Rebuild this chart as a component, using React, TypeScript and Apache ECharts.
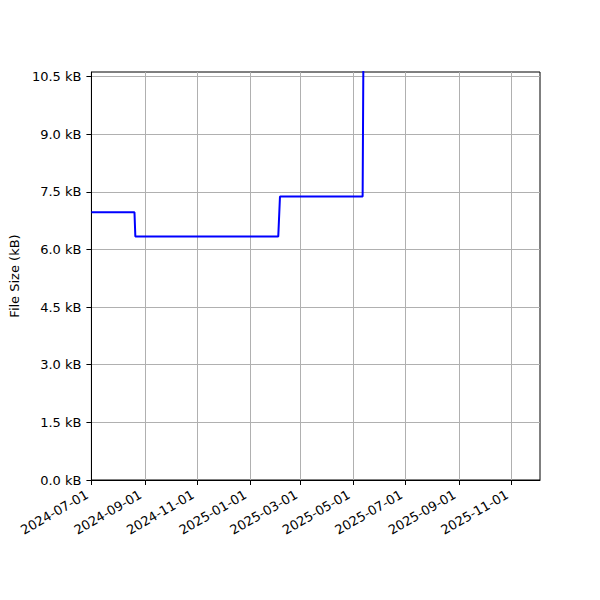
import React, { useEffect, useRef } from "react";
import * as echarts from "echarts";

const dates: string[] = [
  "2024-07-01",
  "2024-08-20",
  "2024-08-21",
  "2025-02-03",
  "2025-02-05",
  "2025-05-12",
  "2025-05-13",
];
const sizesKB: number[] = [6.97, 6.97, 6.34, 6.34, 7.38, 7.38, 11.5];

const xTickDates: string[] = [
  "2024-07-01",
  "2024-09-01",
  "2024-11-01",
  "2025-01-01",
  "2025-03-01",
  "2025-05-01",
  "2025-07-01",
  "2025-09-01",
  "2025-11-01",
];
const yTicks: number[] = [0, 1.5, 3.0, 4.5, 6.0, 7.5, 9.0, 10.5];

const xMinDate = "2024-07-01";
const xMaxDate = "2025-12-04";
const yMax = 10.62;

const ts = (d: string) => {
  const [y, m, day] = d.split("-").map(Number);
  return Date.UTC(y, m - 1, day);
};
const fmtDate = (v: number) => {
  const d = new Date(v);
  const mm = String(d.getUTCMonth() + 1).padStart(2, "0");
  const dd = String(d.getUTCDate()).padStart(2, "0");
  return `${d.getUTCFullYear()}-${mm}-${dd}`;
};

export default function App() {
  const ref = useRef<HTMLDivElement>(null);
  useEffect(() => {
    if (!ref.current) return;
    const chart = echarts.init(ref.current, undefined, { renderer: "svg" });
    const font = "DejaVu Sans";
    chart.setOption({
      animation: false,
      backgroundColor: "#ffffff",
      grid: {
        left: 90,
        right: 60,
        top: 72,
        bottom: 120,
        show: true,
        borderColor: "#000000",
        borderWidth: 1,
        backgroundColor: "transparent",
      },
      xAxis: {
        type: "value",
        min: ts(xMinDate),
        max: ts(xMaxDate),
        axisLine: { show: true, lineStyle: { color: "#000", width: 1 } },
        axisTick: {
          show: true,
          length: 5,
          lineStyle: { color: "#000" },
          customValues: xTickDates.map(ts),
        },
        axisLabel: {
          show: true,
          customValues: xTickDates.map(ts),
          rotate: 30,
          margin: 11,
          padding: [0, 5, 0, 0],
          color: "#000",
          fontFamily: font,
          fontSize: 13,
          formatter: (v: number) => fmtDate(v),
        },
        splitLine: { show: true, lineStyle: { color: "#b0b0b0", width: 1 } },
      },
      yAxis: {
        type: "value",
        min: 0,
        max: yMax,
        name: "File Size (kB)",
        nameLocation: "middle",
        nameGap: 68,
        nameTextStyle: { color: "#000", fontFamily: font, fontSize: 13 },
        axisLine: { show: true, lineStyle: { color: "#000", width: 1 } },
        axisTick: {
          show: true,
          length: 5,
          lineStyle: { color: "#000" },
          customValues: yTicks,
        },
        axisLabel: {
          show: true,
          customValues: yTicks,
          margin: 10,
          color: "#000",
          fontFamily: font,
          fontSize: 13,
          formatter: (v: number) => `${v.toFixed(1)} kB`,
        },
        splitLine: { show: true, lineStyle: { color: "#b0b0b0", width: 1 } },
      },
      series: [
        {
          type: "line",
          data: dates.map((d, i) => [ts(d), sizesKB[i]]),
          showSymbol: false,
          clip: true,
          lineStyle: { color: "#0000ff", width: 2 },
          itemStyle: { color: "#0000ff" },
        },
      ],
    });
    return () => chart.dispose();
  }, []);
  return <div ref={ref} style={{ width: 600, height: 600, margin: -8 }} />;
}
